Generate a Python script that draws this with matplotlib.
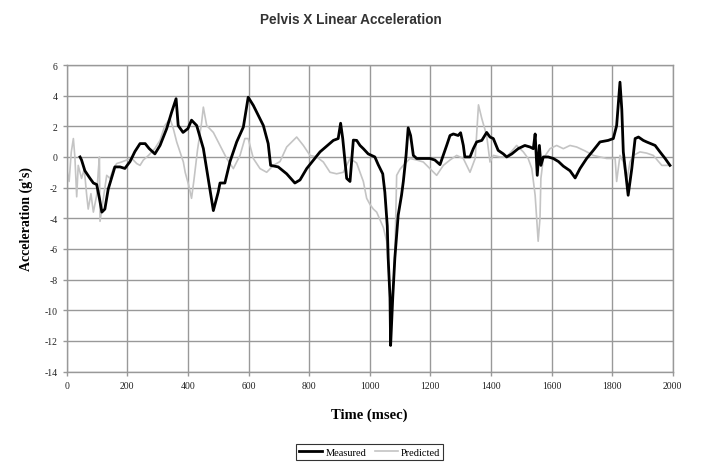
import matplotlib
matplotlib.use("Agg")
import matplotlib.pyplot as plt

plt.rcParams["axes.unicode_minus"] = False

# Measured pelvis x acceleration (g's) vs time (msec)
t_measured = [44, 49, 60, 77, 88, 99, 108, 116, 126, 137, 149, 159, 176, 192, 209, 225, 242, 259, 272, 291,
              308, 330, 346, 361, 368, 384, 400, 412, 429, 451, 467, 484, 500, 506, 522, 539, 561, 583, 599, 616,
              649, 665, 673, 698, 726, 753, 770, 792, 836, 880, 896, 904, 911, 924, 935, 946, 957, 968, 979, 995,
              1017, 1028, 1043, 1050, 1058, 1061, 1067, 1069, 1076, 1083, 1094, 1105, 1111, 1120, 1127, 1135,
              1144, 1155, 1177, 1199, 1215, 1232, 1254, 1265, 1276, 1292, 1300, 1309, 1314, 1331, 1342, 1353,
              1370, 1386, 1397, 1408, 1424, 1441, 1452, 1469, 1490, 1512, 1529, 1540, 1546, 1553, 1560, 1565,
              1573, 1589, 1606, 1623, 1639, 1661, 1678, 1694, 1716, 1738, 1760, 1787, 1804, 1815, 1826, 1832,
              1837, 1853, 1865, 1876, 1887, 1903, 1914, 1942, 1958, 1975, 1991]
measured = [0.0, -0.2, -0.9, -1.4, -1.7, -1.8, -2.7, -3.6, -3.4, -2.1, -1.3, -0.65, -0.65, -0.75, -0.3, 0.35,
            0.87, 0.87, 0.55, 0.2, 0.75, 1.85, 2.9, 3.8, 2.05, 1.6, 1.85, 2.4, 2.05, 0.55, -1.4, -3.5, -2.3,
            -1.7, -1.7, -0.3, 0.98, 1.95, 3.9, 3.36, 2.05, 0.87, -0.55, -0.65, -1.1, -1.7, -1.5, -0.76, 0.33,
            1.08, 1.2, 2.2, 1.2, -1.4, -1.6, 1.1, 1.08, 0.75, 0.54, 0.2, 0.0, -0.5, -1.1, -2.3, -4.5, -6.6,
            -9.2, -12.3, -9.2, -6.6, -3.8, -2.5, -1.6, 0.1, 1.9, 1.4, 0.1, -0.1, -0.1, -0.1, -0.2, -0.5, 0.75,
            1.4, 1.5, 1.4, 1.58, 0.75, 0.0, 0.0, 0.54, 0.98, 1.08, 1.6, 1.3, 1.2, 0.43, 0.2, 0.0, 0.2, 0.54,
            0.75, 0.65, 0.54, 1.5, -1.2, 0.75, -0.55, 0.0, 0.0, -0.1, -0.3, -0.6, -0.9, -1.37, -0.76, -0.1,
            0.43, 0.98, 1.08, 1.2, 2.05, 4.88, 3.1, 0.33, -2.5, -0.76, 1.2, 1.3, 1.08, 0.98, 0.75, 0.33, -0.1,
            -0.55]

# Predicted
t_predicted = [0, 8, 15, 22, 27, 33, 38, 49, 58, 66, 71, 80, 88, 99, 104, 108, 110, 121, 132, 143, 154, 165,
               181, 198, 215, 231, 242, 253, 270, 291, 308, 324, 341, 352, 363, 374, 385, 391, 402, 412, 420,
               432, 445, 451, 462, 484, 506, 528, 550, 572, 588, 599, 616, 638, 660, 682, 704, 726, 759, 781,
               803, 825, 847, 869, 891, 913, 935, 957, 979, 990, 1001, 1012, 1023, 1034, 1045, 1056, 1061,
               1067, 1072, 1078, 1083, 1089, 1100, 1111, 1133, 1155, 1177, 1199, 1221, 1243, 1265, 1287, 1309,
               1331, 1348, 1359, 1370, 1386, 1397, 1408, 1430, 1452, 1485, 1507, 1523, 1535, 1546, 1551, 1556,
               1562, 1565, 1573, 1595, 1617, 1639, 1661, 1683, 1710, 1738, 1782, 1810, 1815, 1826, 1837, 1848,
               1859, 1870, 1892, 1914, 1936, 1964, 1986]
predicted = [-0.8, -1.6, 0.3, 1.2, 0.0, -2.6, -0.55, -1.4, -0.8, -2.5, -3.4, -2.4, -3.6, -2.5, -1.0, 0.0,
             -4.2, -2.7, -1.2, -1.4, -0.76, -0.43, -0.33, -0.2, -0.1, -0.43, -0.55, -0.2, 0.1, 0.55, 1.08, 2.05,
             2.5, 1.84, 0.98, 0.33, -0.33, -1.0, -1.8, -2.7, -1.5, 0.5, 2.2, 3.25, 2.05, 1.6, 0.75, -0.1, -0.76,
             0.1, 1.2, 1.2, -0.1, -0.76, -1.0, -0.55, -0.3, 0.65, 1.3, 0.75, 0.1, 0.0, -0.33, -1.0, -1.1, -1.0,
             -0.1, -0.4, -1.6, -2.7, -3.1, -3.4, -3.6, -4.1, -4.6, -5.5, -7.0, -8.8, -9.4, -8.3, -6.5, -1.2,
             -0.8, -0.55, -0.1, -0.2, -0.33, -0.76, -1.2, -0.55, -0.2, 0.1, -0.1, -1.0, -0.1, 3.4, 2.5, 1.4,
             -0.33, 0.1, 0.0, 0.0, 0.75, 0.33, -0.1, -0.76, -2.5, -4.0, -5.5, -4.0, -1.4, -0.1, 0.54, 0.75,
             0.54, 0.75, 0.65, 0.4, 0.1, -0.1, -0.1, -1.6, 0.1, -0.33, -1.6, -0.33, 0.1, 0.33, 0.25, 0.1, -0.55,
             -0.55]

x_ticks = list(range(0, 2001, 200))
y_ticks = list(range(-14, 7, 2))

serif = "Liberation Serif"

fig = plt.figure(figsize=(7.01, 4.64), dpi=100)
ax = fig.add_axes([66.7 / 701, 1 - 372.5 / 464, 606 / 701, 306.5 / 464])

ax.plot(t_predicted, predicted, color="#c4c4c4", lw=1.2, label="Predicted", zorder=2)
ax.plot(t_measured, measured, color="black", lw=2.0, label="Measured", zorder=3)

ax.set_xlim(0, 2000)
ax.set_ylim(-14, 6)
ax.set_xticks(x_ticks)
ax.set_yticks(y_ticks)
ax.grid(True, color="#999999", lw=1.0)
ax.set_axisbelow(True)
for s in ax.spines.values():
    s.set_color("#999999")
    s.set_linewidth(1.0)
ax.tick_params(colors="#999999", length=3, width=1.0, labelcolor="#222222", labelsize=7)
for lab in ax.get_xticklabels() + ax.get_yticklabels():
    lab.set_fontfamily(serif)

ax.set_xlabel("Time (msec)", fontfamily=serif, fontweight="bold", fontsize=10.5, labelpad=13)
ax.set_ylabel("Acceleration (g's)", fontfamily=serif, fontweight="bold", fontsize=10, labelpad=8)
fig.suptitle("Pelvis X Linear Acceleration", x=0.5, y=1 - 20 / 464, va="center",
             fontfamily="Liberation Sans", fontweight="bold", fontsize=9.8, color="#333333")

handles, labels = ax.get_legend_handles_labels()
leg = fig.legend(handles[::-1], labels[::-1], loc="center", bbox_to_anchor=(369.7 / 701, 1 - 453 / 464),
                 ncol=2, frameon=True, fancybox=False, prop={"family": serif, "size": 7.5},
                 handlelength=2.2, columnspacing=0.8, handletextpad=0.3, borderpad=0.3)
leg.get_frame().set_edgecolor("black")
leg.get_frame().set_linewidth(0.8)

fig.savefig("out.png", dpi=100)
